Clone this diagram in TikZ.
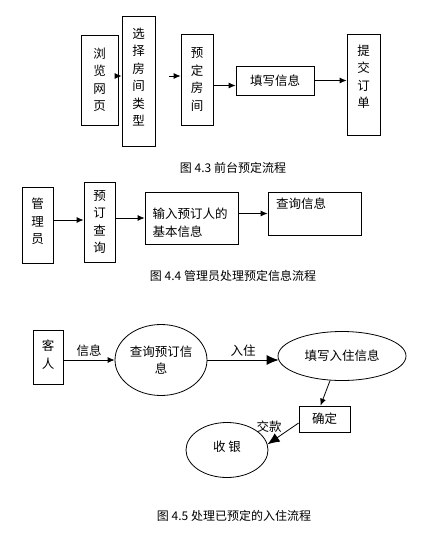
\documentclass[tikz,border=0pt]{standalone}
\usepackage{fontspec}
\setmainfont{Noto Sans CJK SC}
\usetikzlibrary{arrows.meta, positioning, shapes.geometric}
\tikzstyle{box} = [
  draw, line width=0.8pt, inner sep=0pt, align=center,
  font=\fontsize{12.5}{17.5}\selectfont
]
\tikzstyle{oval} = [
  ellipse, draw, line width=0.8pt, inner sep=0pt, align=center,
  font=\fontsize{12.5}{17.5}\selectfont
]
\tikzstyle{arrow} = [
  -{Latex[length=7pt,width=6pt]}, line width=0.8pt
]
\tikzstyle{bigarrow} = [
  -{Latex[length=12pt,width=10pt]}, line width=0.8pt
]
\tikzstyle{caption} = [font=\fontsize{12}{14}\selectfont]
\tikzstyle{tag} = [font=\fontsize{12.5}{14}\selectfont, inner sep=1pt]

\begin{document}
\begin{tikzpicture}[x=1pt, y=-1pt]

  \fill[white] (0,0) rectangle (425,551);
  \useasboundingbox (0,0) rectangle (425,551);

  % front desk booking
  \node[box, minimum width=37pt, minimum height=90pt]
    (browse)  at (99.5,80)  {浏\\览\\网\\页};
  \node[box, minimum width=33pt, minimum height=130pt, text depth=8pt]
    (choose)  at (138.5,81) {选\\择\\房\\间\\类\\型};
  \node[box, minimum width=32pt, minimum height=91pt]
    (reserve) at (197,79.5) {预\\定\\房\\间};
  \node[box, minimum width=78pt, minimum height=29pt]
    (fill)    at (275,80.5) {填写信息};
  \node[box, minimum width=33pt, minimum height=101pt, text depth=16pt]
    (submit)  at (363.5,84.5) {提\\交\\订\\单};
  \coordinate (free) at (169,76);

  \draw[arrow] ([yshift=4pt]browse.east) -- ([yshift=4pt]browse.east -| choose.west);
  \draw[arrow] (free) -- (free -| reserve.west);
  \draw[arrow] ([yshift=-5pt]fill.west -| reserve.east) -- ([yshift=-5pt]fill.west);
  \draw[arrow] (fill.east) -- (fill.east -| submit.west);

  \node[caption] (cap1) at (233,168) {图 4.3 前台预定流程};

  % administrator handling
  \node[box, minimum width=31pt, minimum height=76pt, text depth=8pt]
    (admin) at (37.5,225)  {管\\理\\员};
  \node[box, minimum width=31pt, minimum height=80pt]
    (query) at (99.5,222)  {预\\订\\查\\询};
  \node[box, minimum width=93pt, minimum height=52pt, text width=78pt,
        align=left, text depth=9pt]
    (input) at (191.5,218) {输入预订人的\\基本信息};
  \node[box, minimum width=93pt, minimum height=43pt, text width=77pt,
        align=left, text depth=20pt]
    (info)  at (314.5,213.5) {查询信息};

  \draw[arrow] ([yshift=5pt]admin.east) -- ([yshift=5pt]admin.east -| query.west);
  \draw[arrow] (query.east |- input) -- (input.west);
  \draw[arrow] (input.east |- info) -- (info.west);

  \node[caption] (cap2) at (233,276) {图 4.4 管理员处理预定信息流程};

  % checking in with a booking
  \node[box, minimum width=30pt, minimum height=54pt, text depth=6pt]
    (guest)   at (48,357)   {客\\人};
  \node[oval, minimum width=92pt, minimum height=71pt]
    (lookup)  at (161,360)  {查询预订信\\息};
  \node[oval, minimum width=128pt, minimum height=49pt]
    (checkin) at (342,356)  {填写入住信息};
  \node[box, minimum width=51pt, minimum height=26pt]
    (confirm) at (324.5,419) {确定};
  \node[oval, minimum width=82pt, minimum height=55pt, text depth=8pt]
    (cashier) at (227,450)  {收 银};

  \draw[arrow] (guest.east |- lookup) --
    node[tag, above=2pt] {信息} (lookup.west);
  \draw[bigarrow] (lookup.east) --
    node[tag, above=2pt] {入住} ([xshift=1pt]lookup.east -| checkin.west);
  \draw[arrow] (checkin.244) -- ([xshift=-4pt]confirm.north);
  \draw[bigarrow] ([yshift=-4pt]confirm.west) --
    node[tag, above left=0pt] {交款} (cashier.8);

  \node[caption] (cap3) at (234,516) {图 4.5 处理已预定的入住流程};

\end{tikzpicture}
\end{document}
